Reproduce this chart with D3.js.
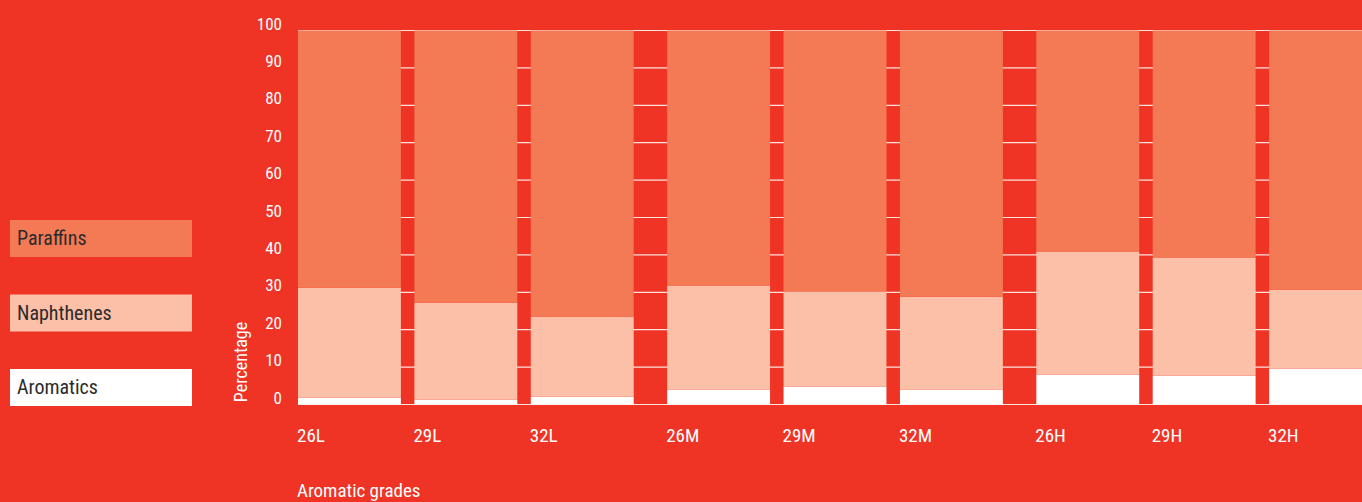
<!DOCTYPE html>
<html>
<head>
<meta charset="utf-8">
<script src="https://cdn.jsdelivr.net/npm/d3@7"></script>
<style>
  body { margin: 0; background: #ef3325; }
  text { font-family: "Liberation Sans Narrow", "Roboto Condensed", Roboto, sans-serif; }
</style>
</head>
<body>
<div id="vis"></div>
<script>
// data (percent)
const grades = ["26L", "29L", "32L", "26M", "29M", "32M", "26H", "29H", "32H"];
const groups = ["L", "M", "H"];
const aromatics = [1.8, 1.3, 2.1, 4.0, 4.8, 4.0, 8.0, 7.7, 9.6];
const naphthenes = [29.4, 25.9, 21.4, 27.8, 25.4, 24.8, 32.9, 31.6, 21.1];
const paraffins = [68.8, 72.8, 76.5, 68.2, 69.8, 71.2, 59.1, 60.7, 69.3];
const yTicks = [0, 10, 20, 30, 40, 50, 60, 70, 80, 90, 100];

const keys = ["Aromatics", "Naphthenes", "Paraffins"];
const colors = {Aromatics: "#ffffff", Naphthenes: "#fcc0a8", Paraffins: "#f47955"};

const W = 1362, H = 502;
const svg = d3.select("#vis")
  .append("svg")
    .attr("width", W)
    .attr("height", H);

const rows = grades.map((g, i) => ({
  grade: g,
  group: g.slice(-1),
  Aromatics: aromatics[i],
  Naphthenes: naphthenes[i],
  Paraffins: paraffins[i]
}));

// groups of three bars, bigger gap between groups
const xGroup = d3.scaleBand()
  .domain(groups)
  .range([298, 1372])
  .paddingInner(0.0907)
  .paddingOuter(0);
const xInner = d3.scaleBand()
  .domain(["26", "29", "32"])
  .range([0, xGroup.bandwidth()])
  .paddingInner(0.116)
  .paddingOuter(0);
const xPos = d => xGroup(d.group) + xInner(d.grade.slice(0, 2));

const y = d3.scaleLinear()
  .domain([0, 100])
  .range([404.5, 30.5]);

// gridlines behind the bars
svg.append("g")
  .selectAll("line")
  .data(yTicks)
  .enter()
  .append("line")
    .attr("x1", 298)
    .attr("x2", W)
    .attr("y1", d => y(d))
    .attr("y2", d => y(d))
    .attr("stroke", "#fde3dc")
    .attr("stroke-width", 1.2);

// y tick labels sit on top of their line
svg.append("g")
  .selectAll("text")
  .data(yTicks)
  .enter()
  .append("text")
    .attr("x", 282)
    .attr("y", d => y(d) - 1)
    .attr("text-anchor", "end")
    .attr("fill", "#fff")
    .style("font-size", "17px")
    .text(d => d);

// stacked bars
const series = d3.stack().keys(keys)(rows);
svg.append("g")
  .selectAll("g")
  .data(series)
  .enter()
  .append("g")
    .attr("fill", d => colors[d.key])
  .selectAll("rect")
  .data(d => d)
  .enter()
  .append("rect")
    .attr("x", d => xPos(d.data))
    .attr("y", d => y(d[1]))
    .attr("width", xInner.bandwidth())
    .attr("height", d => y(d[0]) - y(d[1]));

// x labels, left aligned on each bar
svg.append("g")
  .selectAll("text")
  .data(rows)
  .enter()
  .append("text")
    .attr("x", d => xPos(d) - 1)
    .attr("y", 442)
    .attr("fill", "#fff")
    .style("font-size", "19px")
    .text(d => d.grade);

svg.append("text")
  .attr("x", 297)
  .attr("y", 497)
  .attr("fill", "#fff")
  .style("font-size", "19px")
  .text("Aromatic grades");

svg.append("text")
  .attr("transform", "translate(247,362)rotate(-90)")
  .attr("text-anchor", "middle")
  .attr("fill", "#fff")
  .style("font-size", "18px")
  .text("Percentage");

// legend
const legend = svg.append("g")
  .selectAll("g")
  .data(keys.slice().reverse())
  .enter()
  .append("g")
    .attr("transform", (d, i) => "translate(10," + (220 + i * 74.5) + ")");
legend.append("rect")
  .attr("width", 182)
  .attr("height", 37)
  .attr("fill", d => colors[d]);
legend.append("text")
  .attr("x", 7)
  .attr("y", 25)
  .attr("fill", "#2b2b2b")
  .style("font-size", "20px")
  .text(d => d);
</script>
</body>
</html>
